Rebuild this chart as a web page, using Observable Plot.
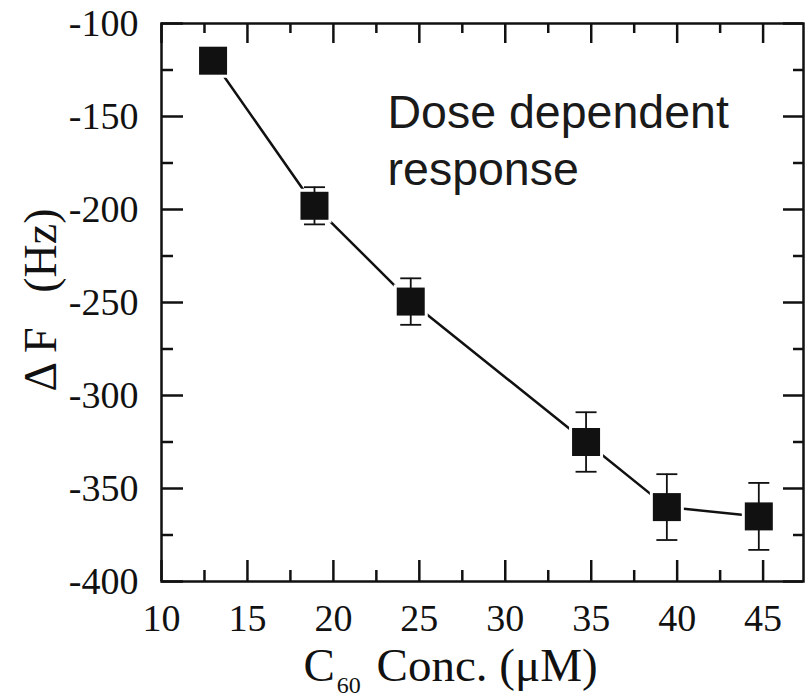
<!DOCTYPE html>
<html><head><meta charset="utf-8">
<script src="https://cdn.jsdelivr.net/npm/d3@7"></script>
<script src="https://cdn.jsdelivr.net/npm/@observablehq/plot@0.6"></script>
<style>
html,body{margin:0;padding:0;background:#fff}
#chart svg{display:block}
#chart svg g[aria-label="x-axis tick label"] text,
#chart svg g[aria-label="y-axis tick label"] text{font-family:'Liberation Serif','Times New Roman',serif;font-size:38px}
</style>
</head><body><div id="chart"></div>
<script>
// ---- data ----
const conc   = [13.0, 18.9, 24.5, 34.7, 39.4, 44.75];     // C60 concentration (µM)
const deltaF = [-120, -198, -249.5, -325, -360, -365];    // ΔF (Hz)
const errF   = [5, 10, 12.5, 16, 17.7, 18];               // error (± Hz)
const xMajor = [10, 15, 20, 25, 30, 35, 40, 45];
const xMinor = [12.5, 17.5, 22.5, 27.5, 32.5, 37.5, 42.5];
const yMajor = [-100, -150, -200, -250, -300, -350, -400];
const yMinor = [-125, -175, -225, -275, -325, -375];
const xTitle = ["C", "60", "Conc. (μM)"];
const yTitle = "Δ F\u00a0\u00a0\u00a0(Hz)";
const noteText = "Dose dependent\nresponse";
const noteAt = {x: 23.15, y: -187};

const data = conc.map((x, i) => ({x, y: deltaF[i], e: errF[i]}));

const W = 805, H = 700, mL = 161, mT = 23, mR = 2, mB = 119;
const plotW = W - mL - mR, plotH = H - mT - mB;
const ink = "#111";
const serif = "'Liberation Serif', 'Times New Roman', serif";
const capSymbol = {draw(ctx, size) { const r = Math.sqrt(size / Math.PI); ctx.moveTo(-r, 0); ctx.lineTo(r, 0); }};

const chart = Plot.plot({
  width: W, height: H,
  marginLeft: mL, marginTop: mT, marginRight: mR, marginBottom: mB,
  x: {domain: [10, 47.35]},
  y: {domain: [-400, -100]},
  style: {fontFamily: serif, fontSize: "38px", color: ink, background: "#fff"},
  marks: [
    // connecting line
    Plot.line(data, {x: "x", y: "y", stroke: ink, strokeWidth: 2.5}),
    // white halo around markers (gap to symbol)
    Plot.dot(data, {x: "x", y: "y", symbol: "square", r: 15.8, fill: "#fff", stroke: "#fff", strokeWidth: 6}),
    // error bars
    Plot.ruleX(data, {x: "x", y1: d => d.y - d.e, y2: d => d.y + d.e, stroke: ink, strokeWidth: 1.8}),
    Plot.dot(data, {x: "x", y: d => d.y + d.e, symbol: capSymbol, r: 10.5, fill: "none", stroke: ink, strokeWidth: 1.8}),
    Plot.dot(data, {x: "x", y: d => d.y - d.e, symbol: capSymbol, r: 10.5, fill: "none", stroke: ink, strokeWidth: 1.8}),
    // markers
    Plot.dot(data, {x: "x", y: "y", symbol: "square", r: 15.8, fill: ink, stroke: "none"}),
    // inward ticks: bottom / top
    Plot.ruleX(xMajor, {x: d => d, insetTop: plotH - 21, stroke: ink, strokeWidth: 2.5}),
    Plot.ruleX(xMinor, {x: d => d, insetTop: plotH - 11, stroke: ink, strokeWidth: 2.5}),
    Plot.ruleX(xMajor, {x: d => d, insetBottom: plotH - 20, stroke: ink, strokeWidth: 2.5}),
    Plot.ruleX(xMinor, {x: d => d, insetBottom: plotH - 10, stroke: ink, strokeWidth: 2.5}),
    // inward ticks: left / right
    Plot.ruleY(yMajor, {y: d => d, insetRight: plotW - 22, stroke: ink, strokeWidth: 2.5}),
    Plot.ruleY(yMinor, {y: d => d, insetRight: plotW - 12, stroke: ink, strokeWidth: 2.5}),
    Plot.ruleY(yMajor, {y: d => d, insetLeft: plotW - 20, stroke: ink, strokeWidth: 2.5}),
    Plot.ruleY(yMinor, {y: d => d, insetLeft: plotW - 10, stroke: ink, strokeWidth: 2.5}),
    Plot.frame({stroke: ink, strokeWidth: 2.5}),
    // tick labels
    Plot.axisX({ticks: xMajor, tickSize: 0, tickPadding: 23, label: null, tickFormat: d => String(d), fontSize: 38, fontFamily: serif}),
    Plot.axisY({ticks: yMajor, tickSize: 0, tickPadding: 23, label: null, tickFormat: d => String(d), fontSize: 38, fontFamily: serif}),
    // annotation
    Plot.text([noteText], {x: noteAt.x, y: noteAt.y, text: d => d, textAnchor: "start", lineAnchor: "bottom",
      lineHeight: 1.24, fontSize: 46.5, fontFamily: "'Liberation Sans', Arial, sans-serif", fill: "#1a1a1a"})
  ]
});

document.getElementById("chart").appendChild(chart);

// axis titles (with subscript)
const svg = d3.select(chart);
const xt = svg.append("text")
  .attr("x", 303.5).attr("y", 681)
  .attr("text-anchor", "start")
  .attr("font-family", serif).attr("font-size", 47).attr("fill", ink);
xt.append("tspan").text(xTitle[0]);
xt.append("tspan").attr("dx", 2).attr("dy", 12).attr("font-size", 24).text(xTitle[1]);
xt.append("tspan").attr("dx", 4).attr("dy", -12).text("\u00a0" + xTitle[2]);

svg.append("text")
  .attr("transform", "translate(56,300) rotate(-90)")
  .attr("text-anchor", "middle")
  .attr("font-family", serif).attr("font-size", 46).attr("fill", ink)
  .text(yTitle);
</script>
</body></html>
